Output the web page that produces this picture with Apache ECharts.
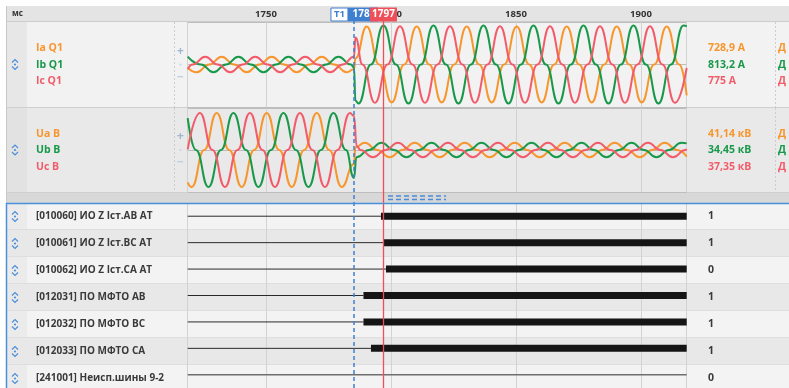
<!DOCTYPE html>
<html>
<head>
<meta charset="utf-8">
<script src="https://cdn.jsdelivr.net/npm/echarts@6.0.0/dist/echarts.min.js"></script>
<style>
  html, body { margin: 0; padding: 0; background: #fff; }
  #chart { width: 789px; height: 388px; }
</style>
</head>
<body>
<div id="chart"></div>
<script>
// time window shown on the axis, ms
const timeRange = [1718.7, 1918.3]
const cursorTimes = [1785, 1797]

const currentNames = ['Ia Q1', 'Ib Q1', 'Ic Q1']
const currentReadings = ['728,9 А', '813,2 А', '775 А']
const voltageNames = ['Ua B', 'Ub B', 'Uc B']
const voltageReadings = ['41,14 кВ', '34,45 кВ', '37,35 кВ']

// waveform knots [ms, value] (peaks / zero crossings), A
const iaQ1 = [
  [1718.7, -94], [1722.3, -220], [1727.3, 0], [1732.3, 220], [1737.3, 0], [1742.3, -220], [1747.3, 0],
  [1752.3, 220], [1757.3, 0], [1762.3, -220], [1767.3, 0], [1772.3, 220], [1777.3, 0], [1782.3, -220],
  [1785.2, -135], [1785.8, 170], [1790.3, 1070], [1795.3, 0], [1800.3, -1070], [1805.3, 0], [1810.3, 1070],
  [1815.3, 0], [1820.3, -1070], [1825.3, 0], [1830.3, 1070], [1835.3, 0], [1840.3, -1070], [1845.3, 0],
  [1850.3, 1070], [1855.3, 0], [1860.3, -1070], [1865.3, 0], [1870.3, 1070], [1875.3, 0], [1880.3, -1070],
  [1885.3, 0], [1890.3, 1070], [1895.3, 0], [1900.3, -1070], [1905.3, 0], [1910.3, 1070], [1915.3, 0],
  [1918.3, -870],
]
const ibQ1 = [
  [1718.7, 220], [1724, 0], [1729, -220], [1734, 0], [1739, 220], [1744, 0], [1749, -220], [1754, 0],
  [1759, 220], [1764, 0], [1769, -220], [1774, 0], [1779, 220], [1784, 0], [1785.2, -81],
  [1785.8, -1020], [1787, -1100], [1792, 0], [1797, 1100], [1802, 0], [1807, -1100], [1812, 0],
  [1817, 1100], [1822, 0], [1827, -1100], [1832, 0], [1837, 1100], [1842, 0], [1847, -1100], [1852, 0],
  [1857, 1100], [1862, 0], [1867, -1100], [1872, 0], [1877, 1100], [1882, 0], [1887, -1100], [1892, 0],
  [1897, 1100], [1902, 0], [1907, -1100], [1912, 0], [1917, 1100], [1918.3, 1080],
]
const icQ1 = [
  [1718.7, -130], [1720.7, 0], [1725.7, 220], [1730.7, 0], [1735.7, -220], [1740.7, 0], [1745.7, 220],
  [1750.7, 0], [1755.7, -220], [1760.7, 0], [1765.7, 220], [1770.7, 0], [1775.7, -220], [1780.7, 0],
  [1785.2, 217], [1785.8, 760], [1788.6, 0], [1793.6, -1080], [1798.6, 0], [1803.6, 1080], [1808.6, 0],
  [1813.6, -1080], [1818.6, 0], [1823.6, 1080], [1828.6, 0], [1833.6, -1080], [1838.6, 0], [1843.6, 1080],
  [1848.6, 0], [1853.6, -1080], [1858.6, 0], [1863.6, 1080], [1868.6, 0], [1873.6, -1080], [1878.6, 0],
  [1883.6, 1080], [1888.6, 0], [1893.6, -1080], [1898.6, 0], [1903.6, 1080], [1908.6, 0], [1913.6, -1080],
  [1918.3, -100],
]

// kV
const uaB = [
  [1718.7, -162], [1720.3, -185], [1725.3, 0], [1730.3, 185], [1735.3, 0], [1740.3, -185], [1745.3, 0],
  [1750.3, 185], [1755.3, 0], [1760.3, -185], [1765.3, 0], [1770.3, 185], [1775.3, 0], [1780.3, -185],
  [1785.2, -70], [1785.8, 14], [1789.5, 36], [1794.5, 0], [1799.5, -36], [1804.5, 0], [1809.5, 36],
  [1814.5, 0], [1819.5, -36], [1824.5, 0], [1829.5, 36], [1834.5, 0], [1839.5, -36], [1844.5, 0],
  [1849.5, 36], [1854.5, 0], [1859.5, -36], [1864.5, 0], [1869.5, 36], [1874.5, 0], [1879.5, -36],
  [1884.5, 0], [1889.5, 36], [1894.5, 0], [1899.5, -36], [1904.5, 0], [1909.5, 36], [1914.5, 0],
  [1918.3, -33],
]
const ubB = [
  [1718.7, 159], [1722, 0], [1727, -185], [1732, 0], [1737, 185], [1742, 0], [1747, -185], [1752, 0],
  [1757, 185], [1762, 0], [1767, -185], [1772, 0], [1777, 185], [1782, 0], [1785.2, -140],
  [1786.2, -36], [1791.2, 0], [1796.2, 36], [1801.2, 0], [1806.2, -36], [1811.2, 0], [1816.2, 36],
  [1821.2, 0], [1826.2, -36], [1831.2, 0], [1836.2, 36], [1841.2, 0], [1846.2, -36], [1851.2, 0],
  [1856.2, 36], [1861.2, 0], [1866.2, -36], [1871.2, 0], [1876.2, 36], [1881.2, 0], [1886.2, -36],
  [1891.2, 0], [1896.2, 36], [1901.2, 0], [1906.2, -36], [1911.2, 0], [1916.2, 36], [1918.3, 33],
]
const ucB = [
  [1718.7, 3], [1723.6, 185], [1728.6, 0], [1733.6, -185], [1738.6, 0], [1743.6, 185], [1748.6, 0],
  [1753.6, -185], [1758.6, 0], [1763.6, 185], [1768.6, 0], [1773.6, -185], [1778.6, 0], [1783.6, 185],
  [1785.2, 170], [1786.3, 20], [1787.8, 0], [1792.8, -36], [1797.8, 0], [1802.8, 36], [1807.8, 0],
  [1812.8, -36], [1817.8, 0], [1822.8, 36], [1827.8, 0], [1832.8, -36], [1837.8, 0], [1842.8, 36],
  [1847.8, 0], [1852.8, -36], [1857.8, 0], [1862.8, 36], [1867.8, 0], [1872.8, -36], [1877.8, 0],
  [1882.8, 36], [1887.8, 0], [1892.8, -36], [1897.8, 0], [1902.8, 36], [1907.8, 0], [1912.8, -36],
  [1917.8, 0], [1918.3, 4],
]

const digitalNames = [
  '[010060] ИО Z Iст.АВ АТ',
  '[010061] ИО Z Iст.ВС АТ',
  '[010062] ИО Z Iст.СА АТ',
  '[012031] ПО МФТО АВ',
  '[012032] ПО МФТО ВС',
  '[012033] ПО МФТО СА',
  '[241001] Неисп.шины 9-2',
]
// moment each signal goes to 1 (null = stays 0)
const digitalOnTimes = [1796, 1797.2, 1798, 1789, 1789, 1792, null]
const digitalReadings = ['1', '1', '0', '1', '1', '1', '0']

const PHASE = ['#f7962d', '#18994a', '#f25c6a']
const FONT = '"Open Sans", sans-serif'
const PLOT_L = 187.7
const PLOT_R = 686.7
const ROW_TOP = 203
const ROW_H = 27

const chart = echarts.init(document.getElementById('chart'), null, { renderer: 'canvas' })

const xAxisBase = (gridIndex, labels) => ({
  type: 'value',
  gridIndex,
  min: timeRange[0],
  max: timeRange[1],
  minInterval: 50,
  maxInterval: 50,
  position: 'top',
  axisLine: { show: false },
  axisTick: { show: false },
  axisLabel: {
    show: labels,
    margin: 3,
    color: '#333',
    fontSize: 9.5,
    fontWeight: 'bold',
    fontFamily: FONT,
    showMinLabel: false,
    showMaxLabel: false,
    formatter: (v) => String(v),
  },
  splitLine: { show: true, lineStyle: { color: '#d2d2d2', width: 1 } },
})

const yAxisBase = (gridIndex, lim) => ({
  type: 'value',
  gridIndex,
  min: -lim,
  max: lim,
  interval: lim,
  axisLine: { show: false },
  axisTick: { show: false },
  axisLabel: { show: false },
  splitLine: { show: true, lineStyle: { color: '#bdbdbd' } },
})

const wave = (data, color, axis) => ({
  type: 'line',
  data,
  xAxisIndex: axis,
  yAxisIndex: axis,
  smooth: 0.5,
  smoothMonotone: 'x',
  showSymbol: false,
  lineStyle: { color, width: 2 },
  z: 3,
})

const series = [
  wave(iaQ1, PHASE[0], 0), wave(ibQ1, PHASE[1], 0), wave(icQ1, PHASE[2], 0),
  wave(uaB, PHASE[0], 1), wave(ubB, PHASE[1], 1), wave(ucB, PHASE[2], 1),
]

digitalNames.forEach((name, i) => {
  const y = i + 0.5
  const on = digitalOnTimes[i]
  series.push({
    type: 'line',
    xAxisIndex: 2,
    yAxisIndex: 2,
    data: [[timeRange[0], y], [on == null ? timeRange[1] : on, y]],
    showSymbol: false,
    lineStyle: { color: on == null ? '#6f6f6f' : '#2a2a2a', width: on == null ? 1.6 : 1 },
    z: 3,
  })
  if (on != null) {
    series.push({
      type: 'line',
      xAxisIndex: 2,
      yAxisIndex: 2,
      data: [[on, y], [timeRange[1], y]],
      showSymbol: false,
      lineStyle: { color: '#151515', width: 7, cap: 'butt' },
      z: 3,
    })
  }
})

// cursor lines over the whole view
series.push({
  type: 'line',
  xAxisIndex: 3,
  yAxisIndex: 3,
  data: [[cursorTimes[0], -1], [cursorTimes[1], -1]],
  showSymbol: false,
  lineStyle: { opacity: 0 },
  z: 6,
  markLine: {
    silent: true,
    symbol: 'none',
    label: { show: false },
    data: [
      { xAxis: cursorTimes[0], lineStyle: { color: '#3f7fd0', type: [4, 3], width: 1.5 } },
      { xAxis: cursorTimes[1], lineStyle: { color: '#ef4f58', type: 'solid', width: 1.3 } },
    ],
  },
})

chart.setOption({
  animation: false,
  backgroundColor: '#ffffff',
  grid: [
    { left: PLOT_L, right: 789 - PLOT_R, top: 22, height: 85 },
    { left: PLOT_L, right: 789 - PLOT_R, top: 108, height: 84 },
    { left: PLOT_L, right: 789 - PLOT_R, top: ROW_TOP, height: ROW_H * 7 },
    { left: PLOT_L, right: 789 - PLOT_R, top: 21, height: 367 },
  ],
  xAxis: [xAxisBase(0, true), xAxisBase(1, false), xAxisBase(2, false), { ...xAxisBase(3, false), show: false }],
  yAxis: [
    yAxisBase(0, 1200),
    yAxisBase(1, 210),
    { type: 'value', gridIndex: 2, min: 0, max: 7, inverse: true, show: false },
    { type: 'value', gridIndex: 3, min: 0, max: 1, show: false },
  ],
  series,
})

// ---- panel chrome, labels and readings ----
const g = []
const rect = (x, y, w, h, fill, z = -10) =>
  g.push({ type: 'rect', shape: { x, y, width: w, height: h }, style: { fill }, z, silent: true })
const line = (x1, y1, x2, y2, stroke, width = 1, dash = null, z = -5) =>
  g.push({
    type: 'line', shape: { x1, y1, x2, y2 }, silent: true, z,
    style: { stroke, lineWidth: width, lineDash: dash },
  })
const text = (x, y, str, fill, size = 10, align = 'left', z = 10) =>
  g.push({
    type: 'text', silent: true, z,
    style: { x, y, text: str, fill, font: `bold ${size}px ${FONT}`, textAlign: align, textVerticalAlign: 'middle' },
  })
const expandIcon = (cx, cy) => {
  const st = { stroke: '#4d8fd8', lineWidth: 1.2, fill: null }
  g.push({ type: 'polyline', silent: true, z: 10, shape: { points: [[cx - 3, cy - 2], [cx, cy - 5], [cx + 3, cy - 2]] }, style: st })
  g.push({ type: 'polyline', silent: true, z: 10, shape: { points: [[cx - 3, cy + 2], [cx, cy + 5], [cx + 3, cy + 2]] }, style: st })
  g.push({ type: 'circle', silent: true, z: 10, shape: { cx, cy, r: 1.1 }, style: { fill: '#4d8fd8' } })
}

// header
rect(6, 6, 783, 15.5, '#e4e4e4')
line(6, 21.5, 789, 21.5, '#cdcdcd')
text(12, 14, 'мс', '#333', 8)

// analog panels
const panels = [
  { top: 22, bottom: 107, bg: '#f2f2f2', col: '#e7e7e7', names: currentNames, vals: currentReadings },
  { top: 108, bottom: 192, bg: '#e9e9e9', col: '#e2e2e2', names: voltageNames, vals: voltageReadings },
]
panels.forEach((p) => {
  const mid = (p.top + p.bottom) / 2
  rect(6, p.top, 783, p.bottom - p.top, p.bg)
  rect(6, p.top, 21, p.bottom - p.top, p.col)
  line(6, p.bottom + 0.5, 789, p.bottom + 0.5, '#cfcfcf')
  line(174.5, p.top, 174.5, p.bottom, '#cccccc', 1, [2, 2])
  line(775.5, p.top, 775.5, p.bottom, '#cccccc', 1, [2, 2])
  expandIcon(15, mid)
  text(180.5, mid - 13, '+', '#9db6d2', 12, 'center')
  g.push({ type: 'circle', silent: true, z: 10, shape: { cx: 180.5, cy: mid, r: 1 }, style: { fill: '#c5d3e2' } })
  text(180.5, mid + 13, '−', '#c0cedd', 12, 'center')
  p.names.forEach((n, k) => {
    text(36, mid - 16 + 16.5 * k, n, PHASE[k], 10.5)
    text(708, mid - 16 + 16.5 * k, p.vals[k], PHASE[k], 10.5)
    text(778, mid - 16 + 16.5 * k, 'Д', PHASE[k], 10.5)
  })
})
line(6.5, 6, 6.5, 203, '#c8c8c8')

// splitter between analog and digital groups
rect(6, 192.5, 783, 10.5, '#d8d8d8')
line(388, 196, 446, 196, '#4a8ad6', 1.4, [5, 3], 10)
line(388, 199.5, 446, 199.5, '#4a8ad6', 1.4, [5, 3], 10)

// digital rows
digitalNames.forEach((name, i) => {
  const top = ROW_TOP + i * ROW_H
  const mid = top + ROW_H / 2
  rect(6, top, 783, ROW_H, i % 2 ? '#e8e8e8' : '#f3f3f3')
  if (i % 2 === 0) rect(6, top, 21, ROW_H, '#ebebeb')
  line(6, top + ROW_H - 0.5, 789, top + ROW_H - 0.5, '#dedede')
  expandIcon(15, mid)
  text(36, mid, name, '#3a3a3a', 10)
  text(708, mid, digitalReadings[i], '#3a3a3a', 10.5)
})
line(6, ROW_TOP + 0.5, 789, ROW_TOP + 0.5, '#4a90d9', 1.5, null, 8)
line(6.5, ROW_TOP, 6.5, 388, '#4a90d9', 1.5, null, 8)

// cursor flags in the header
const px1 = chart.convertToPixel({ xAxisIndex: 3 }, cursorTimes[0])
const px2 = chart.convertToPixel({ xAxisIndex: 3 }, cursorTimes[1])
g.push({ type: 'rect', silent: true, z: 20, shape: { x: px1 - 22.5, y: 8, width: 17, height: 13 }, style: { fill: '#fff', stroke: '#3f7fd0', lineWidth: 1 } })
text(px1 - 14, 14.5, 'T1', '#3f7fd0', 9.5, 'center', 21)
rect(px1 - 5.5, 7.5, 30, 14, '#3f7fd0', 20)
text(px1 - 1, 14.5, String(cursorTimes[0]), '#ffffff', 10, 'left', 21)
rect(px2 - 13.5, 7.5, 27, 14, '#ef4f58', 22)
text(px2, 14.5, String(cursorTimes[1]), '#ffffff', 10, 'center', 23)

chart.setOption({ graphic: { elements: g } })
</script>
</body>
</html>
